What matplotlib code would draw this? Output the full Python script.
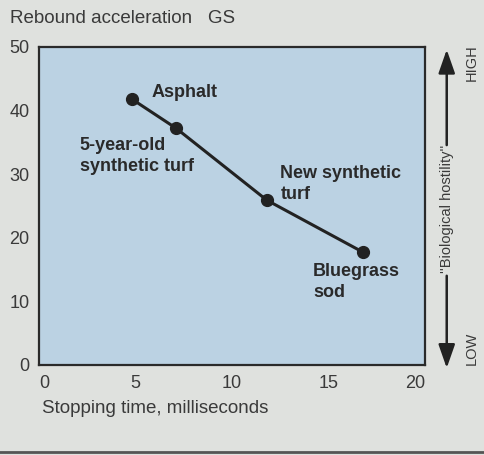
import matplotlib
matplotlib.use("Agg")
import matplotlib.pyplot as plt
from matplotlib.lines import Line2D

# Data
surfaces = ['Asphalt', '5-year-old\nsynthetic turf', 'New synthetic\nturf', 'Bluegrass\nsod']
stopping_ms = [4.8, 7.1, 11.8, 16.8]
rebound_gs = [41.8, 37.2, 25.9, 17.7]
label_pos = [(5.8, 42.9), (2.1, 32.9), (12.5, 28.5), (14.2, 13.0)]
x_ticks = [0, 5, 10, 15, 20]
y_ticks = [0, 10, 20, 30, 40, 50]

plt.rcParams['font.family'] = ['Liberation Sans', 'DejaVu Sans']
txt = '#3a3a3a'

fig = plt.figure(figsize=(4.84, 4.55), dpi=100, facecolor='#dfe1de')
ax = fig.add_axes([0.081, 0.198, 0.797, 0.699])
ax.set_facecolor('#bbd2e3')

ax.plot(stopping_ms, rebound_gs, color='#222222', lw=2.2, marker='o', ms=8.5)
for name, (lx, ly) in zip(surfaces, label_pos):
    ax.text(lx, ly, name, fontsize=13, fontweight='bold', color='#2a2a2a',
            ha='left', va='center', linespacing=1.32)

ax.set_xlim(0, 20)
ax.set_ylim(0, 50)
ax.set_xticks(x_ticks)
ax.set_yticks(y_ticks)
ax.tick_params(length=0, labelsize=13, labelcolor=txt, pad=7)
xl = ax.get_xticklabels()
xl[0].set_ha('left')
xl[-1].set_ha('right')
for s in ax.spines.values():
    s.set_color('#2a2a2a')
    s.set_linewidth(1.6)

fig.text(0.02, 0.959, 'Rebound acceleration   GS', fontsize=13.5, color=txt, va='center')
fig.text(0.087, 0.102, 'Stopping time, milliseconds', fontsize=13.5, color=txt, va='center')

# right-hand scale of "biological hostility"
head = '-|>,head_length=0.8,head_width=0.28'
ax.annotate('', xy=(0.923, 0.897), xytext=(0.923, 0.675), xycoords='figure fraction',
            arrowprops=dict(arrowstyle=head, color='#222222', lw=1.8, mutation_scale=18))
ax.annotate('', xy=(0.923, 0.185), xytext=(0.923, 0.40), xycoords='figure fraction',
            arrowprops=dict(arrowstyle=head, color='#222222', lw=1.8, mutation_scale=18))
fig.text(0.923, 0.54, "''Biological hostility''", rotation=90, fontsize=10.5,
         color=txt, ha='center', va='center')
fig.text(0.975, 0.862, 'HIGH', rotation=90, fontsize=10.5, color=txt, ha='center', va='center')
fig.text(0.975, 0.235, 'LOW', rotation=90, fontsize=10.5, color=txt, ha='center', va='center')

fig.add_artist(Line2D([0, 1], [0.006, 0.006], transform=fig.transFigure, color='#555555', lw=2))

fig.savefig('out.png', dpi=100, facecolor=fig.get_facecolor())
